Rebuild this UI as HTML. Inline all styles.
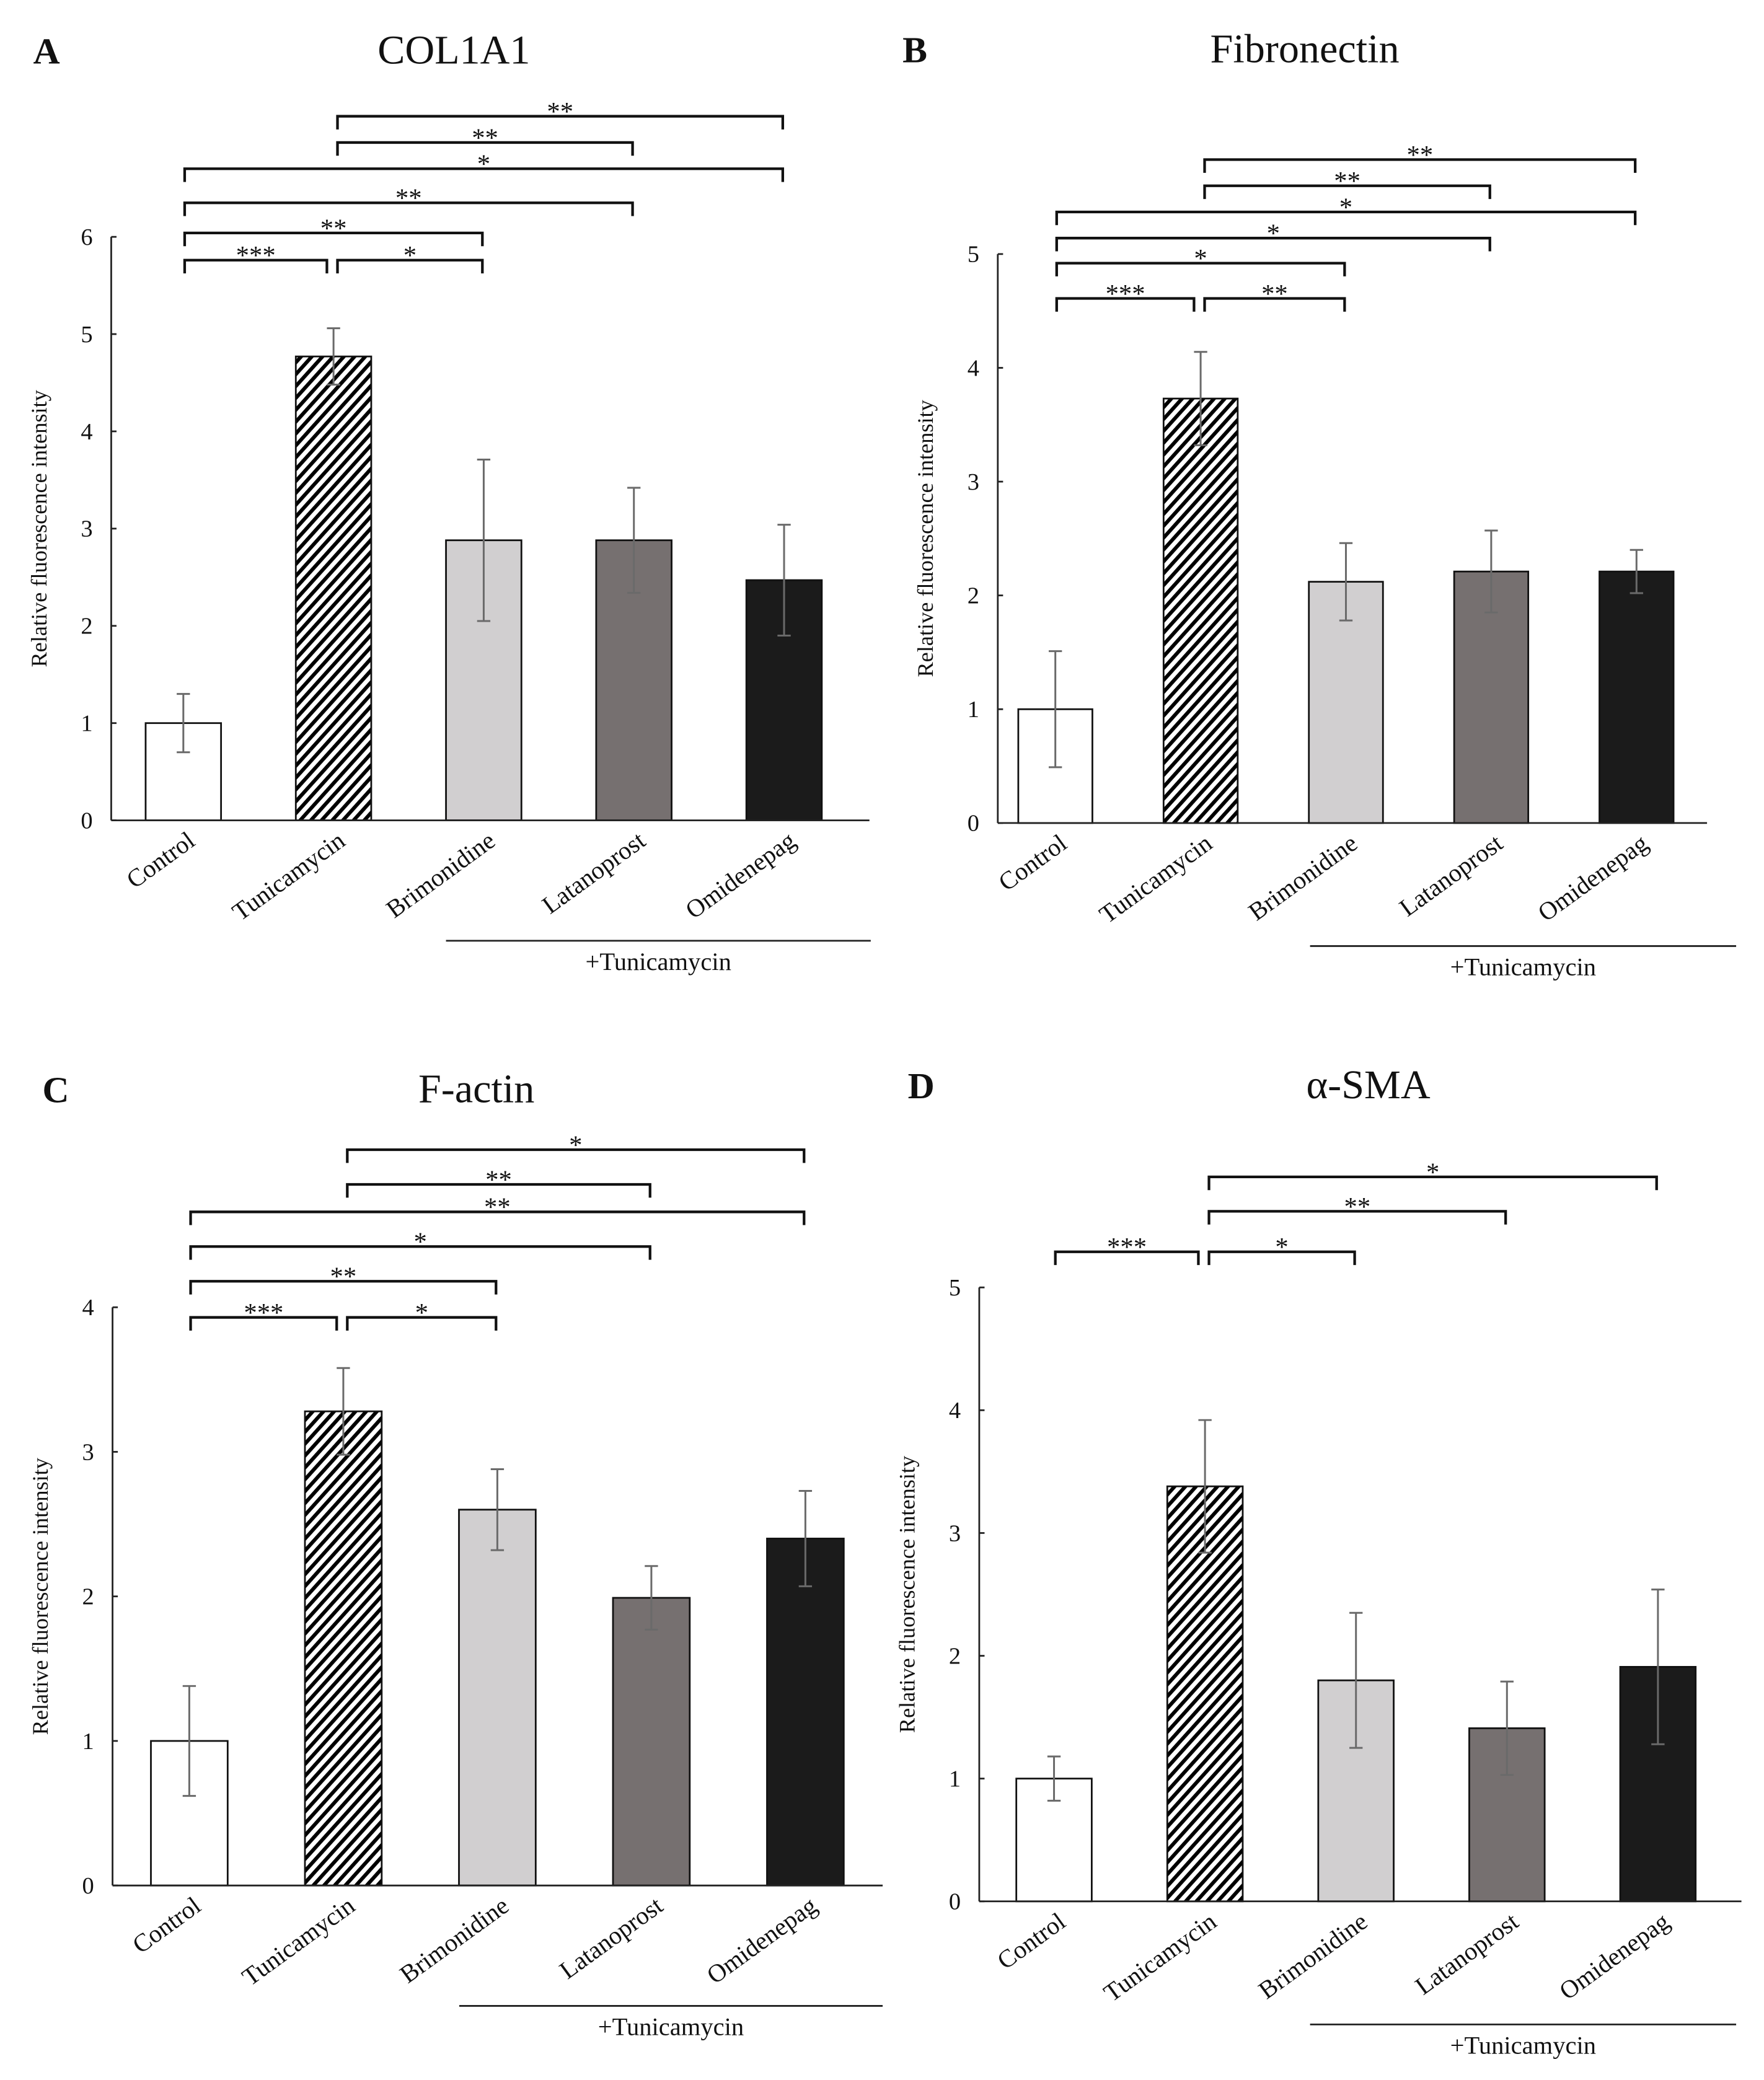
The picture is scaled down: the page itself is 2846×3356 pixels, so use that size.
<!DOCTYPE html>
<html><head><meta charset="utf-8"><style>
html,body{margin:0;padding:0;background:#fff;}
svg{display:block;}
text{font-family:"Liberation Serif","DejaVu Serif",serif;fill:#111;}
</style></head><body>
<svg id="fig" width="2846" height="3356" viewBox="0 0 1333 1572" xmlns="http://www.w3.org/2000/svg">
<defs>
<pattern id="hatch" patternUnits="userSpaceOnUse" width="6" height="6" patternTransform="rotate(42)">
<rect width="6" height="6" fill="#fff"/><rect width="2.8" height="6" fill="#000"/>
</pattern>
</defs>
</svg>
<script>
const categories=["Control","Tunicamycin","Brimonidine","Latanoprost","Omidenepag"];
const barFills=["#ffffff","url(#hatch)","#d1cfd0","#767070","#1b1b1b"];
const titles=["COL1A1","Fibronectin","F-actin","α-SMA"];
const letters=["A","B","C","D"];
const valuesA=[1,4.77,2.88,2.88,2.47];
const errorsA=[0.3,0.29,0.83,0.54,0.57];
const valuesB=[1,3.73,2.12,2.21,2.21];
const errorsB=[0.51,0.41,0.34,0.36,0.19];
const valuesC=[1,3.28,2.6,1.99,2.4];
const errorsC=[0.38,0.3,0.28,0.22,0.33];
const valuesD=[1,3.38,1.8,1.41,1.91];
const errorsD=[0.18,0.54,0.55,0.38,0.63];
const ticksA=[0,1,2,3,4,5,6];
const ticksB=[0,1,2,3,4,5];
const ticksC=[0,1,2,3,4];
const ticksD=[0,1,2,3,4,5];
// brackets: [from, to, height (data units), label]
const bracketsA=[[0,1,5.76,"***"],[1,2,5.76,"*"],[0,2,6.04,"**"],[0,3,6.35,"**"],[0,4,6.7,"*"],[1,3,6.97,"**"],[1,4,7.24,"**"]];
const bracketsB=[[0,1,4.61,"***"],[1,2,4.61,"**"],[0,2,4.92,"*"],[0,3,5.14,"*"],[0,4,5.37,"*"],[1,3,5.6,"**"],[1,4,5.83,"**"]];
const bracketsC=[[0,1,3.93,"***"],[1,2,3.93,"*"],[0,2,4.18,"**"],[0,3,4.42,"*"],[0,4,4.66,"**"],[1,3,4.85,"**"],[1,4,5.09,"*"]];
const bracketsD=[[0,1,5.29,"***"],[1,2,5.29,"*"],[1,3,5.62,"**"],[1,4,5.9,"*"]];

const layouts=[
 {ax:84,y0:620,yTop:179,tMax:6,xEnd:657,c0:138.5,step:113.5,bw:57,tx:343,ty:48,lx:25,ux1:337,ux2:658,uy:711,vals:valuesA,errs:errorsA,ticks:ticksA,br:bracketsA},
 {ax:754,y0:622,yTop:192,tMax:5,xEnd:1290,c0:797.5,step:109.8,bw:56,tx:986,ty:47,lx:682,ux1:990,ux2:1312,uy:715,vals:valuesB,errs:errorsB,ticks:ticksB,br:bracketsB},
 {ax:85,y0:1425,yTop:988,tMax:4,xEnd:667,c0:143,step:116.4,bw:58,tx:360,ty:833,lx:32,ux1:347,ux2:667,uy:1516,vals:valuesC,errs:errorsC,ticks:ticksC,br:bracketsC},
 {ax:740,y0:1437,yTop:973,tMax:5,xEnd:1316,c0:796.5,step:114.1,bw:57,tx:1034,ty:830,lx:686,ux1:990,ux2:1312,uy:1530,vals:valuesD,errs:errorsD,ticks:ticksD,br:bracketsD}
];
const NS="http://www.w3.org/2000/svg";
const svg=document.getElementById('fig');
function mk(tag,attrs,parent){const e=document.createElementNS(NS,tag);for(const k in attrs)e.setAttribute(k,attrs[k]);(parent||svg).appendChild(e);return e;}
layouts.forEach((L,p)=>{
 const g=mk('g',{});
 
 
 const y=v=>L.y0-(v/L.tMax)*(L.y0-L.yTop);
 const x=i=>L.c0+i*L.step;
 const lt=mk('text',{x:L.lx,y:L.ty,'font-size':28,'font-weight':'bold'},g);lt.textContent=letters[p];
 
 
 const tt=mk('text',{x:L.tx,y:L.ty,'font-size':31,'text-anchor':'middle'},g);tt.textContent=titles[p];
 
 
 const ya=mk('line',{x1:L.ax,y1:y(L.tMax),x2:L.ax,y2:L.y0,stroke:'#222','stroke-width':1.3},g);
 
 
 L.ticks.forEach(t=>{
  mk('line',{x1:L.ax,y1:y(t),x2:L.ax+4,y2:y(t),stroke:'#222','stroke-width':1.3},g);
  const tl=mk('text',{x:L.ax-14,y:y(t)+6,'font-size':18,'text-anchor':'end'},g);tl.textContent=t;
  
  
 });
 const yl=mk('text',{x:0,y:0,'font-size':17,'text-anchor':'middle',transform:`translate(${L.ax-49},${(L.y0+y(L.tMax))/2}) rotate(-90)`},g);
 yl.textContent='Relative fluorescence intensity';
 
 
 L.vals.forEach((v,i)=>{
  const r=mk('rect',{x:x(i)-L.bw/2,y:y(v),width:L.bw,height:L.y0-y(v),fill:barFills[i],stroke:'#111','stroke-width':1.3},g);
  
  
  const e=L.errs[i];
  const eb=mk('path',{d:`M${x(i)},${y(v+e)}V${y(v-e)}M${x(i)-5},${y(v+e)}h10M${x(i)-5},${y(v-e)}h10`,stroke:'#6a6a6a','stroke-width':1.4,fill:'none'},g);
  
  
  const cl=mk('text',{x:0,y:0,'font-size':19,'text-anchor':'end',transform:`translate(${x(i)+10},${L.y0+18}) rotate(-36)`},g);
  cl.textContent=categories[i];
  
  
 });
 const xa=mk('line',{x1:L.ax,y1:L.y0,x2:L.xEnd,y2:L.y0,stroke:'#222','stroke-width':1.3},g);
 
 
 L.br.forEach(b=>{
  const x1=x(b[0])+(b[0]===1?2:0)+1, x2=x(b[1])-(b[1]===1?4:0)-1, yy=y(b[2]);
  const bp=mk('path',{d:`M${x1},${yy+10}V${yy}H${x2}V${yy+10}`,stroke:'#111','stroke-width':2,fill:'none'},g);
  
  
  const st=mk('text',{x:(x1+x2)/2,y:yy+3,'font-size':20,'text-anchor':'middle'},g);st.textContent=b[3];
  
  
 });
 const ul=mk('line',{x1:L.ux1,y1:L.uy,x2:L.ux2,y2:L.uy,stroke:'#222','stroke-width':1.3},g);
 
 
 const ut=mk('text',{x:(L.ux1+L.ux2)/2,y:L.uy+22,'font-size':19,'text-anchor':'middle'},g);ut.textContent='+Tunicamycin';
 
 
});
</script>
</body></html>
